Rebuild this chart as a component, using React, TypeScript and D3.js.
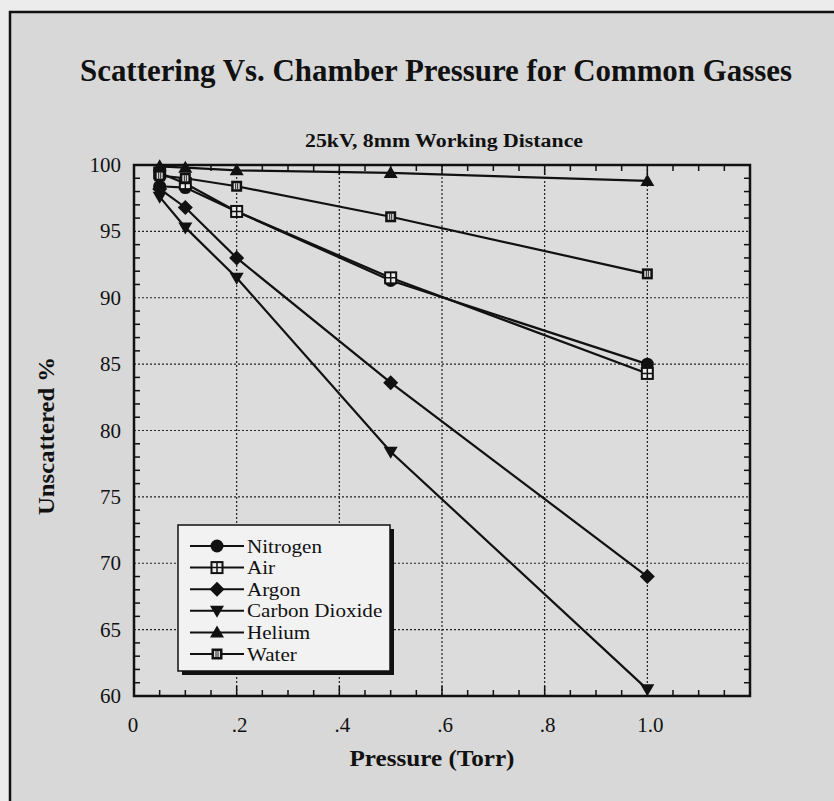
import * as React from "react";
import * as d3 from "d3";

const pressures = [0.05, 0.1, 0.2, 0.5, 1.0];
const nitrogen = [98.4, 98.3, 96.5, 91.3, 85.0];
const air = [99.4, 98.6, 96.5, 91.5, 84.3];
const argon = [98.2, 96.8, 93.0, 83.6, 69.0];
const carbonDioxide = [97.6, 95.3, 91.5, 78.4, 60.5];
const helium = [99.9, 99.8, 99.6, 99.4, 98.8];
const water = [99.2, 99.0, 98.4, 96.1, 91.8];

const seriesNames = ["Nitrogen", "Air", "Argon", "Carbon Dioxide", "Helium", "Water"];
const seriesMarkers = ["circle", "airSquare", "diamond", "triangleDown", "triangleUp", "waterSquare"];
const xTickLabels = ["0", ".2", ".4", ".6", ".8", "1.0"];
const yTicks = [60, 65, 70, 75, 80, 85, 90, 95, 100];

const FONT = "'Liberation Serif', 'Times New Roman', serif";

function drawMarker(g, type, cx, cy) {
  const m = g.append("g").attr("transform", `translate(${cx},${cy})`);
  if (type === "circle") {
    m.append("circle").attr("r", 6.5).attr("fill", "#111");
  } else if (type === "diamond") {
    m.append("path").attr("d", "M0,-7.5L7.5,0L0,7.5L-7.5,0Z").attr("fill", "#111");
  } else if (type === "triangleUp") {
    m.append("path").attr("d", "M0,-7L7,5L-7,5Z").attr("fill", "#111");
  } else if (type === "triangleDown") {
    m.append("path").attr("d", "M0,7L7,-5L-7,-5Z").attr("fill", "#111");
  } else if (type === "airSquare") {
    m.append("rect").attr("x", -5.5).attr("y", -5.5).attr("width", 11).attr("height", 11)
      .attr("fill", "#eee").attr("stroke", "#111").attr("stroke-width", 2);
    m.append("path").attr("d", "M0,-5.5V5.5M-5.5,0H5.5").attr("stroke", "#111").attr("stroke-width", 1.5);
  } else if (type === "waterSquare") {
    m.append("rect").attr("x", -5.5).attr("y", -5.5).attr("width", 11).attr("height", 11)
      .attr("fill", "#111");
    m.append("rect").attr("x", -3).attr("y", -3).attr("width", 6).attr("height", 6).attr("fill", "#ddd");
    m.append("path").attr("d", "M-1,-3V3M1,-3V3").attr("stroke", "#111").attr("stroke-width", 0.9);
  }
}

function drawChart(svgRef) {
  const width = 834;
  const height = 801;
  const plot = { left: 134, right: 750, top: 165, bottom: 696 };

  const x = d3.scaleLinear().domain([0, 1.2]).range([plot.left, plot.right]);
  const y = d3.scaleLinear().domain([60, 100]).range([plot.bottom, plot.top]);

  const svg = d3.select(svgRef.current).attr("width", width).attr("height", height);
  svg.selectAll("*").remove();

  // scanned page background
  svg.append("rect").attr("width", width).attr("height", height).attr("fill", "#ececec");
  svg.append("rect").attr("x", 10).attr("y", 12).attr("width", width - 10).attr("height", height - 12)
    .attr("fill", "#d8d8d8");
  svg.append("path").attr("d", `M10,${height}V12H${width}`).attr("fill", "none")
    .attr("stroke", "#111").attr("stroke-width", 2.5);

  svg.append("text")
    .attr("x", 436).attr("y", 81)
    .attr("text-anchor", "middle")
    .attr("font-family", FONT).attr("font-weight", "bold").attr("font-size", 31)
    .attr("textLength", 712).attr("lengthAdjust", "spacingAndGlyphs")
    .attr("fill", "#111")
    .text("Scattering Vs. Chamber Pressure for Common Gasses");

  svg.append("text")
    .attr("x", 444).attr("y", 147)
    .attr("text-anchor", "middle")
    .attr("font-family", FONT).attr("font-weight", "bold").attr("font-size", 18)
    .attr("textLength", 278).attr("lengthAdjust", "spacingAndGlyphs")
    .attr("fill", "#111")
    .text("25kV, 8mm Working Distance");

  svg.append("rect")
    .attr("x", plot.left).attr("y", plot.top)
    .attr("width", plot.right - plot.left).attr("height", plot.bottom - plot.top)
    .attr("fill", "#dcdcdc");

  // dotted grid
  const xGrid = [0.2, 0.4, 0.6, 0.8, 1.0];
  svg.append("g").selectAll("line").data(xGrid).enter().append("line")
    .attr("x1", d => x(d)).attr("x2", d => x(d))
    .attr("y1", plot.top).attr("y2", plot.bottom)
    .attr("stroke", "#222").attr("stroke-width", 1.2).attr("stroke-dasharray", "2,2");
  svg.append("g").selectAll("line").data(yTicks.slice(1, -1)).enter().append("line")
    .attr("x1", plot.left).attr("x2", plot.right)
    .attr("y1", d => y(d)).attr("y2", d => y(d))
    .attr("stroke", "#222").attr("stroke-width", 1.2).attr("stroke-dasharray", "2,2");

  // minor ticks, inward, on all four sides
  const xMinor = d3.range(0.05, 1.2, 0.05).filter(v => Math.abs(v * 5 - Math.round(v * 5)) > 0.01);
  const yMinor = d3.range(61, 100, 1).filter(v => v % 5 !== 0);
  const ticks = svg.append("g").attr("stroke", "#111").attr("stroke-width", 1.5);
  xMinor.forEach(v => {
    ticks.append("line").attr("x1", x(v)).attr("x2", x(v)).attr("y1", plot.bottom).attr("y2", plot.bottom - 6);
    ticks.append("line").attr("x1", x(v)).attr("x2", x(v)).attr("y1", plot.top).attr("y2", plot.top + 6);
  });
  xGrid.forEach(v => {
    ticks.append("line").attr("x1", x(v)).attr("x2", x(v)).attr("y1", plot.bottom).attr("y2", plot.bottom - 10);
    ticks.append("line").attr("x1", x(v)).attr("x2", x(v)).attr("y1", plot.top).attr("y2", plot.top + 10);
  });
  yMinor.forEach(v => {
    ticks.append("line").attr("x1", plot.left).attr("x2", plot.left + 6).attr("y1", y(v)).attr("y2", y(v));
    ticks.append("line").attr("x1", plot.right).attr("x2", plot.right - 6).attr("y1", y(v)).attr("y2", y(v));
  });

  svg.append("rect")
    .attr("x", plot.left).attr("y", plot.top)
    .attr("width", plot.right - plot.left).attr("height", plot.bottom - plot.top)
    .attr("fill", "none").attr("stroke", "#111").attr("stroke-width", 2.5);

  // tick labels
  svg.append("g").selectAll("text").data(yTicks).enter().append("text")
    .attr("x", 121).attr("y", d => y(d) + 7)
    .attr("text-anchor", "end")
    .attr("font-family", FONT).attr("font-size", 21).attr("fill", "#111")
    .text(d => d);
  svg.append("g").selectAll("text").data(xTickLabels).enter().append("text")
    .attr("x", (d, i) => x(i * 0.2) + (i === 0 ? -1 : 3)).attr("y", 732)
    .attr("text-anchor", "middle")
    .attr("font-family", FONT).attr("font-size", 21).attr("fill", "#111")
    .text(d => d);

  svg.append("text")
    .attr("x", 432).attr("y", 766)
    .attr("text-anchor", "middle")
    .attr("font-family", FONT).attr("font-weight", "bold").attr("font-size", 23)
    .attr("textLength", 165).attr("lengthAdjust", "spacingAndGlyphs")
    .attr("fill", "#111")
    .text("Pressure (Torr)");
  svg.append("text")
    .attr("transform", "translate(54,436) rotate(-90)")
    .attr("text-anchor", "middle")
    .attr("font-family", FONT).attr("font-weight", "bold").attr("font-size", 23)
    .attr("textLength", 158).attr("lengthAdjust", "spacingAndGlyphs")
    .attr("fill", "#111")
    .text("Unscattered %");

  // series
  const allSeries = [nitrogen, air, argon, carbonDioxide, helium, water];
  const line = d3.line().x(d => x(d[0])).y(d => y(d[1]));
  const seriesG = svg.append("g");
  allSeries.forEach(vals => {
    const pts = pressures.map((p, i) => [p, vals[i]]);
    seriesG.append("path").attr("d", line(pts)).attr("fill", "none")
      .attr("stroke", "#111").attr("stroke-width", 2.2);
  });
  allSeries.forEach((vals, si) => {
    pressures.forEach((p, i) => drawMarker(seriesG, seriesMarkers[si], x(p), y(vals[i])));
  });

  // legend
  const lg = svg.append("g").attr("transform", "translate(178,525)");
  lg.append("rect").attr("x", 4).attr("y", 4).attr("width", 212).attr("height", 146).attr("fill", "#111");
  lg.append("rect").attr("x", 0).attr("y", 0).attr("width", 212).attr("height", 146)
    .attr("fill", "#f2f2f2").attr("stroke", "#111").attr("stroke-width", 1.5);
  seriesNames.forEach((name, i) => {
    const cy = 21 + i * 21.6;
    lg.append("line").attr("x1", 12).attr("x2", 66).attr("y1", cy).attr("y2", cy)
      .attr("stroke", "#111").attr("stroke-width", 2);
    drawMarker(lg, seriesMarkers[i], 39, cy);
    lg.append("text")
      .attr("transform", `translate(69,${cy + 6.5}) scale(1.14,1)`)
      .attr("font-family", FONT).attr("font-size", 18.5).attr("fill", "#111")
      .text(name);
  });
}

const App = () => {
  const svgRef = React.useRef(null);

  React.useEffect(() => {
    drawChart(svgRef);
  }, [svgRef]);

  return (
    <div style={{ position: "absolute", left: 0, top: 0 }}>
      <svg ref={svgRef} style={{ display: "block" }} />
    </div>
  );
};

export default App;
